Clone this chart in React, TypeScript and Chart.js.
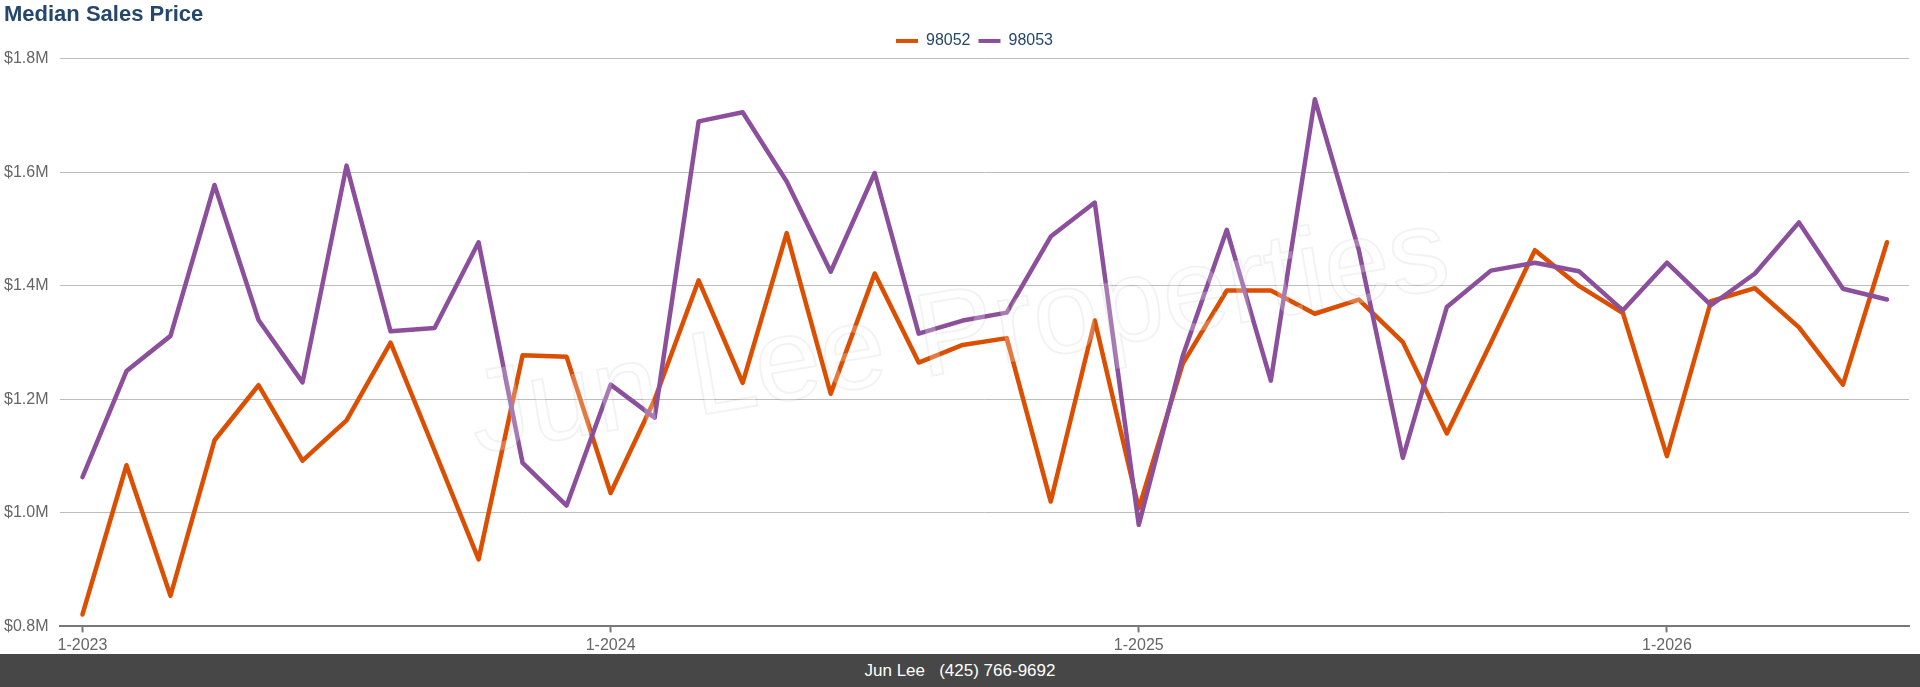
import { useEffect, useRef } from "react"
import { Chart, registerables } from "chart.js"

Chart.register(...registerables)

// ページの余白を消す
document.body.style.margin = "0"

const FONT = '"Liberation Sans", Arial, Helvetica, sans-serif'

// 1-2023 から 6-2026 までの月
const categories = Array.from({ length: 42 }, (_, i) => `${(i % 12) + 1}-${2023 + Math.floor(i / 12)}`)

const series98052 = [
  821000, 1084000, 854000, 1128000, 1225000, 1092000, 1163000, 1300000, 1110000, 918000,
  1278000, 1275000, 1035000, 1200000, 1410000, 1229000, 1493000, 1210000, 1422000, 1265000,
  1296000, 1308000, 1020000, 1339000, 1008000, 1263000, 1392000, 1392000, 1351000, 1376000,
  1301000, 1140000, 1300000, 1463000, 1400000, 1352000, 1100000, 1373000, 1396000, 1327000,
  1226000, 1477000,
]

const series98053 = [
  1063000, 1250000, 1312000, 1578000, 1340000, 1230000, 1612000, 1320000, 1326000, 1477000,
  1088000, 1013000, 1226000, 1168000, 1690000, 1706000, 1584000, 1425000, 1599000, 1316000,
  1339000, 1353000, 1487000, 1547000, 979000, 1277000, 1499000, 1233000, 1729000, 1463000,
  1097000, 1363000, 1427000, 1441000, 1426000, 1357000, 1441000, 1366000, 1422000, 1512000,
  1395000, 1376000,
]

const yMin = 800000
const yMax = 1800000
const yStep = 200000

const ORANGE = "#dc4e00"
const PURPLE = "#8c4f9c"
const NAVY = "#24476b"

const isJanuary = (i: number) => (categories[i] || "").startsWith("1-")

// 凡例を少し右へ
const legendShift = {
  id: "legendShift",
  afterLayout(chart: any) {
    const l = chart.legend
    if (l) {
      l.left += 18
      l.right += 18
    }
  },
}

// 透かし文字
const watermark = {
  id: "watermark",
  afterDatasetsDraw(chart: any) {
    const { ctx } = chart
    ctx.save()
    ctx.translate(965, 370)
    ctx.rotate((-9.7 * Math.PI) / 180)
    ctx.font = `118px ${FONT}`
    ctx.textAlign = "center"
    ctx.textBaseline = "alphabetic"
    ctx.fillStyle = "rgba(255,255,255,0.25)"
    ctx.fillText("Jun Lee Properties", 0, 0)
    ctx.strokeStyle = "rgba(0,0,0,0.05)"
    ctx.lineWidth = 2
    ctx.strokeText("Jun Lee Properties", 0, 0)
    ctx.restore()
  },
}

function SalesChart() {
  const canvasRef = useRef<HTMLCanvasElement>(null)
  const chartRef = useRef<Chart | null>(null)

  useEffect(() => {
    if (!canvasRef.current) return
    if (chartRef.current) chartRef.current.destroy()

    const ctx = canvasRef.current.getContext("2d")
    if (!ctx) return

    chartRef.current = new Chart(ctx, {
      type: "line",
      data: {
        labels: categories,
        datasets: [
          {
            label: "98052",
            data: series98052,
            borderColor: ORANGE,
            backgroundColor: ORANGE,
            borderWidth: 4.5,
            pointRadius: 0,
            tension: 0,
            borderCapStyle: "round",
            borderJoinStyle: "round",
            order: 1,
          },
          {
            label: "98053",
            data: series98053,
            borderColor: PURPLE,
            backgroundColor: PURPLE,
            borderWidth: 4.5,
            pointRadius: 0,
            tension: 0,
            borderCapStyle: "round",
            borderJoinStyle: "round",
            order: 0,
          },
        ],
      },
      options: {
        responsive: false,
        animation: false,
        layout: { padding: { left: 4, right: 11, top: 0, bottom: 0 } },
        plugins: {
          title: {
            display: true,
            text: "Median Sales Price",
            align: "start",
            color: NAVY,
            font: { family: FONT, size: 22, weight: "bold", lineHeight: 0.93 },
            padding: { top: 4.5, bottom: 0 },
          },
          legend: {
            display: true,
            position: "top",
            labels: {
              boxWidth: 22,
              boxHeight: 4,
              padding: 8,
              color: NAVY,
              font: { family: FONT, size: 16 },
              sort: (a: any, b: any) => a.datasetIndex - b.datasetIndex,
              generateLabels: (chart: any) =>
                Chart.defaults.plugins.legend.labels
                  .generateLabels(chart)
                  .map((item: any) => ({ ...item, lineWidth: 0 })),
            },
          },
          tooltip: { enabled: false },
        },
        scales: {
          x: {
            type: "category",
            offset: true,
            afterFit: (scale: any) => {
              scale.height -= 5.6
            },
            grid: {
              display: true,
              offset: false,
              drawOnChartArea: false,
              drawTicks: true,
              tickLength: 6,
              tickWidth: 2,
              tickColor: (c: any) => (isJanuary(c.index) ? "#777" : "rgba(0,0,0,0)"),
            },
            border: { display: true, color: "#777", width: 2 },
            ticks: {
              autoSkip: false,
              maxRotation: 0,
              padding: 4,
              color: "#666",
              font: { family: FONT, size: 16 },
              callback: (_v: any, i: number) => (isJanuary(i) ? categories[i] : ""),
            },
          },
          y: {
            min: yMin,
            max: yMax,
            afterFit: (scale: any) => {
              scale.width -= 12
            },
            grid: { color: "#bdbdbd", lineWidth: 1, drawTicks: false },
            border: { display: false },
            ticks: {
              stepSize: yStep,
              padding: 12,
              color: "#666",
              font: { family: FONT, size: 16 },
              callback: (v: any) => "$" + (Number(v) / 1000000).toFixed(1) + "M",
            },
          },
        },
      },
      plugins: [legendShift, watermark],
    })

    return () => {
      if (chartRef.current) {
        chartRef.current.destroy()
        chartRef.current = null
      }
    }
  }, [])

  return <canvas ref={canvasRef} width={1920} height={654} style={{ display: "block" }} />
}

export default function App() {
  return (
    <div style={{ width: 1920 }}>
      <SalesChart />
      <div
        style={{
          height: 33,
          lineHeight: "33px",
          background: "#474747",
          color: "#fff",
          textAlign: "center",
          fontFamily: FONT,
          fontSize: 17,
        }}
      >
        Jun Lee{"\u00a0\u00a0\u00a0"}(425) 766-9692
      </div>
    </div>
  )
}
